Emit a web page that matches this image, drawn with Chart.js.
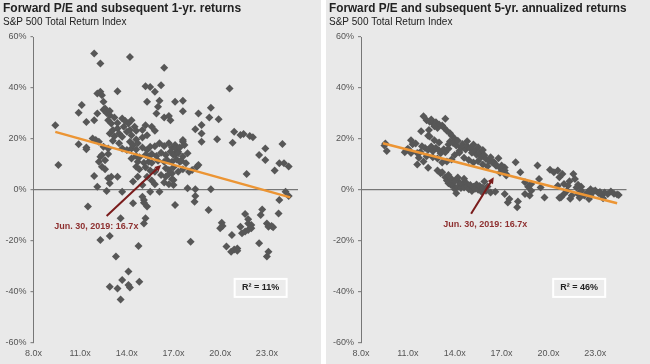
<!DOCTYPE html>
<html>
<head>
<meta charset="utf-8">
<script src="https://cdn.jsdelivr.net/npm/chart.js@4.4.0/dist/chart.umd.min.js"></script>
<style>
  html, body { margin: 0; padding: 0; background: #fff; }
  body { width: 650px; height: 364px; position: relative; overflow: hidden; }
  canvas { position: absolute; top: 0; background: #e9e9e9; }
  #left { left: 0; }
  #right { left: 326px; }
</style>
</head>
<body>
<canvas id="left" width="321" height="364"></canvas>
<canvas id="right" width="324" height="364"></canvas>
<script>
// Axes
const xTicks = [8, 11, 14, 17, 20, 23];
const yTicks = [-60, -40, -20, 0, 20, 40, 60];

// Forward P/E vs subsequent 1-yr return (%)
const oneYearPoints = [
  [9.4,25.4],[9.6,9.8],[10.9,30.3],[11.1,33.3],[10.9,17.9],[11.4,16.0],[11.4,16.7],[11.4,26.7],[11.5,-6.5],
  [11.8,20.2],[11.9,27.4],[11.9,53.5],[11.9,5.5],[12.0,19.6],[12.1,30.0],[12.1,37.8],[12.1,1.3],[12.2,18.9],
  [12.2,11.1],[12.3,38.5],[12.3,49.6],[12.3,13.0],[12.3,-19.6],[12.4,37.2],[12.4,9.1],[12.4,13.7],[12.5,34.6],
  [12.5,31.5],[12.5,17.0],[12.6,32.0],[12.6,8.1],[12.6,11.7],[12.7,30.2],[12.7,-0.4],[12.8,4.6],[12.8,14.1],
  [12.8,16.3],[12.8,27.4],[12.9,31.0],[12.9,29.3],[12.9,2.6],[12.9,22.2],[12.9,-18.0],[12.9,-37.9],[13.0,5.2],
  [13.0,26.1],[13.1,23.5],[13.1,19.3],[13.2,28.4],[13.2,21.1],[13.3,-26.1],[13.4,38.7],[13.4,26.3],[13.4,24.1],
  [13.4,5.2],[13.4,-38.6],[13.5,22.2],[13.5,18.3],[13.6,-11.1],[13.6,-42.9],[13.7,28.0],[13.7,20.9],[13.7,16.3],
  [13.7,-35.3],[13.7,-0.7],[13.8,24.8],[13.9,27.1],[14.0,22.8],[14.0,15.7],[14.1,26.1],[14.1,-32.0],[14.1,-37.3],
  [14.2,52.2],[14.2,23.5],[14.2,18.9],[14.2,-38.2],[14.3,27.4],[14.3,21.5],[14.3,16.3],[14.3,12.4],[14.4,17.6],
  [14.4,3.3],[14.4,-5.2],[14.5,24.8],[14.6,23.2],[14.6,19.8],[14.6,15.9],[14.6,13.3],[14.6,9.1],[14.7,18.3],
  [14.7,11.1],[14.7,5.2],[14.75,-22.0],[14.8,12.8],[14.8,8.1],[14.8,-36.0],[15.0,23.5],[15.0,20.6],[15.0,16.7],
  [15.0,2.0],[15.0,-2.6],[15.1,10.7],[15.1,-3.9],[15.1,-5.0],[15.1,-13.1],[15.2,40.7],[15.2,25.4],[15.2,13.7],
  [15.2,8.9],[15.2,-11.1],[15.3,34.6],[15.3,21.5],[15.3,15.7],[15.3,5.2],[15.3,-6.5],[15.4,13.0],[15.4,11.1],
  [15.5,40.4],[15.5,17.0],[15.5,7.6],[15.5,-0.7],[15.6,24.8],[15.6,14.1],[15.6,10.7],[15.6,3.7],[15.8,38.5],
  [15.8,23.2],[15.8,17.2],[15.8,7.2],[15.8,2.3],[15.9,30.0],[15.9,13.3],[16.0,32.6],[16.0,11.5],[16.1,35.0],
  [16.1,18.3],[16.1,-0.7],[16.2,41.1],[16.2,14.6],[16.2,5.9],[16.4,47.9],[16.4,28.4],[16.4,17.3],[16.4,11.1],
  [16.4,2.9],[16.5,13.7],[16.5,8.5],[16.5,5.2],[16.6,11.7],[16.7,29.0],[16.7,18.3],[16.7,7.8],[16.7,6.3],
  [16.7,2.3],[16.8,27.4],[16.8,15.0],[16.9,16.7],[16.9,11.1],[16.9,4.2],[16.9,6.5],[17.0,8.9],[17.0,2.0],
  [17.0,13.7],[17.0,3.9],[17.1,34.6],[17.1,17.6],[17.1,14.1],[17.1,16.4],[17.1,-5.9],[17.2,12.0],[17.3,15.0],
  [17.3,7.2],[17.3,14.4],[17.4,16.7],[17.4,11.1],[17.5,11.5],[17.6,35.0],[17.6,30.9],[17.6,18.9],[17.6,8.1],
  [17.6,19.6],[17.6,13.1],[17.7,17.6],[17.8,10.5],[17.9,14.4],[17.9,0.7],[18.0,7.2],[18.1,-20.3],[18.2,7.8],
  [18.35,-4.6],[18.4,-2.4],[18.4,0.3],[18.4,23.8],[18.5,9.1],[18.6,30.0],[18.6,9.8],[18.8,18.9],[18.8,22.2],
  [18.8,25.5],[19.25,-7.8],[19.3,28.4],[19.4,32.3],[19.4,0.3],[19.8,19.9],[19.9,27.7],[20.0,-15.0],[20.1,-12.8],
  [20.15,-14.1],[20.4,-22.2],[20.6,39.8],[20.7,-24.2],[20.75,-17.6],[20.8,18.5],[20.9,22.8],[20.9,-23.3],
  [21.1,-22.9],[21.1,-23.8],[21.3,21.6],[21.3,-14.4],[21.4,-17.0],[21.5,22.0],[21.6,-16.3],[21.6,-9.4],[21.7,6.3],
  [21.8,-15.7],[21.8,-13.1],[21.8,-11.5],[21.9,21.2],[22.0,-13.7],[22.0,-15.0],[22.1,20.7],[22.5,13.7],[22.5,-20.9],
  [22.6,-9.8],[22.7,-7.6],[22.9,16.3],[22.9,11.8],[23.0,-13.1],[23.0,-26.1],[23.1,-14.4],[23.1,-24.2],[23.3,-14.1],
  [23.4,-14.6],[23.5,7.6],[23.75,-9.2],[23.8,10.5],[23.8,-3.9],[24.0,18.0],[24.1,10.5],[24.2,-0.7],[24.4,9.2],[24.4,-2.4]
];

// Forward P/E vs subsequent 5-yr annualized return (%)
const fiveYearPoints = [
  [9.56,18.2],[9.65,15.3],[9.5,17.5],[11.2,19.5],[11.3,17.9],[11.5,18.2],[11.1,15.5],[11.2,14.5],[11.6,14.5],
  [11.8,14.9],[11.6,10.0],[11.0,16.2],[10.8,14.8],[10.9,15.6],[12.0,28.9],[12.2,27.4],[12.4,26.8],[12.6,26.2],
  [12.5,27.6],[12.8,26.6],[13.0,25.7],[13.2,25.3],[13.4,27.9],[13.3,24.5],[13.5,23.2],[13.7,22.3],[12.9,24.3],
  [12.7,25.0],[12.35,23.5],[11.85,23.0],[12.3,21.3],[12.4,21.0],[13.8,21.4],[14.0,20.1],[11.9,17.2],[12.1,16.5],
  [12.3,15.8],[12.5,17.1],[12.6,15.2],[12.8,16.6],[13.0,15.5],[13.1,14.4],[13.3,16.0],[13.4,14.8],[13.6,17.8],
  [13.7,19.0],[13.9,18.4],[14.1,17.5],[14.2,19.3],[14.4,16.7],[14.5,18.0],[14.7,15.9],[14.8,17.2],[15.0,16.3],
  [15.1,14.6],[15.3,15.5],[15.4,13.8],[15.6,14.5],[15.7,12.9],[15.9,13.6],[16.0,12.2],[16.2,11.4],[16.3,12.8],
  [16.5,11.0],[16.6,10.2],[16.8,12.5],[17.0,9.6],[17.2,8.8],[14.0,13.7],[14.3,14.6],[14.6,12.6],[13.8,12.0],
  [13.5,11.2],[14.9,11.8],[15.2,10.8],[15.5,11.3],[15.8,10.0],[16.1,9.3],[12.9,12.4],[13.2,10.8],[12.6,12.8],
  [12.2,13.2],[11.7,12.6],[12.0,11.2],[13.6,16.2],[14.3,15.3],[15.2,17.8],[15.5,16.8],[13.0,18.6],[12.7,19.5],
  [14.8,19.1],[15.8,15.7],[16.4,10.8],[16.65,9.5],[16.9,6.8],[17.3,6.2],
  [12.3,8.7],[12.9,7.6],[13.1,6.6],[13.2,7.0],[13.4,5.0],[13.5,3.7],[13.6,2.6],[13.75,2.1],[13.9,1.7],[14.0,0.4],
  [14.1,-1.3],[14.2,1.2],[14.3,3.0],[14.4,0.8],[14.5,2.4],[14.6,1.0],[14.7,3.0],[14.8,1.5],[14.9,0.3],[15.0,2.0],
  [15.1,-0.4],[15.2,1.3],[15.3,0.5],[15.4,2.2],[15.5,0.1],[15.6,1.6],[15.7,-0.6],[15.8,0.9],[16.0,-0.3],[16.1,1.4],
  [13.8,4.3],[14.0,3.3],[14.2,4.9],[13.6,5.9],[14.6,4.4],[15.9,3.3],[16.3,-1.0],[16.6,-0.7],
  [16.9,8.7],[17.2,7.6],[17.3,5.7],[17.9,10.9],[18.2,7.0],[18.5,3.0],[18.7,1.3],[18.9,2.4],[19.3,9.6],[19.4,4.3],
  [19.5,1.0],[20.1,7.9],[20.35,7.0],[20.6,7.6],[20.9,6.3],[20.7,5.0],[21.6,6.3],[21.7,4.3],[21.0,2.4],[21.25,1.7],
  [21.35,3.4],[21.9,2.1],[22.1,1.3],[17.2,-1.6],[17.4,-4.9],[17.5,-3.5],[18.0,-6.8],[18.05,-4.5],[18.5,-1.6],
  [18.8,-2.2],[18.9,-0.3],[19.75,-2.9],[20.6,1.7],[20.8,-2.9],[21.0,-1.6],[21.2,-0.3],[21.5,-2.2],[21.8,1.0],
  [21.9,-1.6],[22.1,-0.3],[22.3,-2.2],[22.5,-0.9],[22.7,-2.0],[22.9,-0.5],[23.2,-1.2],[23.4,-2.0],[23.6,-1.0],
  [23.8,-1.6],[24.0,-0.6],[24.2,-1.5],[24.4,-1.8],[24.5,-2.0],[22.7,0.3],[23.0,-0.2],[23.3,-0.8],[21.4,-3.4],
  [20.7,-3.0],[22.0,-3.0],[22.6,-3.5],[23.5,-3.2]
];

// Regression lines (end points)
const fitOneX = [9.4, 24.5];
const fitOneY = [22.8, -2.9];
const fitFiveX = [9.4, 24.4];
const fitFiveY = [18.3, -5.2];

const FONT = "'Liberation Sans', Arial, sans-serif";

// Flecha, rótulo e caixa do R²
const notesPlugin = {
  id: 'notes',
  afterDatasetsDraw(chart, args, opts) {
    const ctx = chart.ctx;
    const xs = chart.scales.x, ys = chart.scales.y;
    const x1 = xs.getPixelForValue(opts.arrowFrom[0]), y1 = ys.getPixelForValue(opts.arrowFrom[1]);
    const x2 = xs.getPixelForValue(opts.arrowTo[0]), y2 = ys.getPixelForValue(opts.arrowTo[1]);
    const ang = Math.atan2(y2 - y1, x2 - x1);

    ctx.save();
    ctx.strokeStyle = '#7a1c1c';
    ctx.fillStyle = '#7a1c1c';
    ctx.lineWidth = 2;
    ctx.beginPath();
    ctx.moveTo(x1, y1);
    ctx.lineTo(x2 - 4 * Math.cos(ang), y2 - 4 * Math.sin(ang));
    ctx.stroke();
    ctx.beginPath();
    ctx.moveTo(x2, y2);
    ctx.lineTo(x2 - 7 * Math.cos(ang - 0.45), y2 - 7 * Math.sin(ang - 0.45));
    ctx.lineTo(x2 - 7 * Math.cos(ang + 0.45), y2 - 7 * Math.sin(ang + 0.45));
    ctx.closePath();
    ctx.fill();

    // rótulo
    ctx.fillStyle = '#8e3030';
    ctx.font = 'bold 9px ' + FONT;
    ctx.textAlign = 'center';
    ctx.textBaseline = 'middle';
    ctx.fillText(opts.label, xs.getPixelForValue(opts.labelAt[0]), ys.getPixelForValue(opts.labelAt[1]));

    // caixa R²
    const bx = xs.getPixelForValue(opts.boxAt[0]), by = ys.getPixelForValue(opts.boxAt[1]);
    ctx.fillStyle = '#ececec';
    ctx.fillRect(bx - 26, by - 9, 52, 18);
    ctx.strokeStyle = '#ffffff';
    ctx.lineWidth = 2;
    ctx.strokeRect(bx - 26, by - 9, 52, 18);
    ctx.fillStyle = '#222';
    ctx.font = 'bold 9px ' + FONT;
    ctx.fillText(opts.r2, bx, by);
    ctx.restore();
  }
};

function makePanel(id, title, points, fitX, fitY, notes, padLeft, axisWidth, padRight) {
  const ctx = document.getElementById(id);
  return new Chart(ctx, {
    type: 'scatter',
    data: {
      datasets: [{
        type: 'line',
        data: fitX.map((v, i) => ({ x: v, y: fitY[i] })),
        borderColor: '#ec9534',
        borderWidth: 2.5,
        pointRadius: 0,
        fill: false
      }, {
        data: points.map(p => ({ x: p[0], y: p[1] })),
        pointStyle: 'rectRot',
        pointRadius: 4,
        backgroundColor: '#575757',
        borderWidth: 0
      }]
    },
    options: {
      responsive: false,
      animation: false,
      layout: { padding: { left: padLeft, right: padRight, bottom: 0, top: 0 } },
      plugins: {
        legend: { display: false },
        tooltip: { enabled: false },
        title: {
          display: true, text: title, align: 'start', color: '#222',
          font: { family: FONT, size: 12, weight: 'bold' },
          padding: { top: 1, bottom: 0.6 }
        },
        subtitle: {
          display: true, text: 'S&P 500 Total Return Index', align: 'start', color: '#222',
          font: { family: FONT, size: 10 },
          padding: { top: 0, bottom: 9 }
        },
        notes: notes
      },
      scales: {
        x: {
          type: 'linear', min: 8, max: 25,
          afterBuildTicks: s => { s.ticks = xTicks.map(v => ({ value: v })); },
          afterFit: s => { s.height = 21; },
          grid: { display: false, drawTicks: false },
          border: { display: false },
          ticks: {
            padding: 5, color: '#555', maxRotation: 0, autoSkip: false,
            font: { family: FONT, size: 9 },
            callback: v => v.toFixed(1) + 'x'
          }
        },
        y: {
          min: -60, max: 60,
          afterBuildTicks: s => { s.ticks = yTicks.map(v => ({ value: v })); },
          afterFit: s => { s.width = axisWidth; },
          grid: {
            color: c => (c.tick && c.tick.value === 0) ? '#777' : 'rgba(0,0,0,0)',
            lineWidth: 1.2,
            tickLength: 3,
            tickColor: '#888'
          },
          border: { display: true, color: '#777', width: 1 },
          ticks: {
            padding: 4, color: '#555',
            font: { family: FONT, size: 9 },
            callback: v => v + '%'
          }
        }
      }
    },
    plugins: [notesPlugin]
  });
}

makePanel('left', 'Forward P/E and subsequent 1-yr. returns', oneYearPoints, fitOneX, fitOneY, {
  arrowFrom: [12.7, -10.2], arrowTo: [16.2, 9.8],
  label: 'Jun. 30, 2019: 16.7x', labelAt: [12.04, -14.4],
  r2: 'R² = 11%', boxAt: [22.6, -38.4]
}, 3, 30.5, 23);

makePanel('right', 'Forward P/E and subsequent 5-yr. annualized returns', fiveYearPoints, fitFiveX, fitFiveY, {
  arrowFrom: [15.05, -9.3], arrowTo: [16.5, 5.0],
  label: 'Jun. 30, 2019: 16.7x', labelAt: [15.95, -13.6],
  r2: 'R² = 46%', boxAt: [21.97, -38.4]
}, 3, 32, 23.5);
</script>
</body>
</html>
